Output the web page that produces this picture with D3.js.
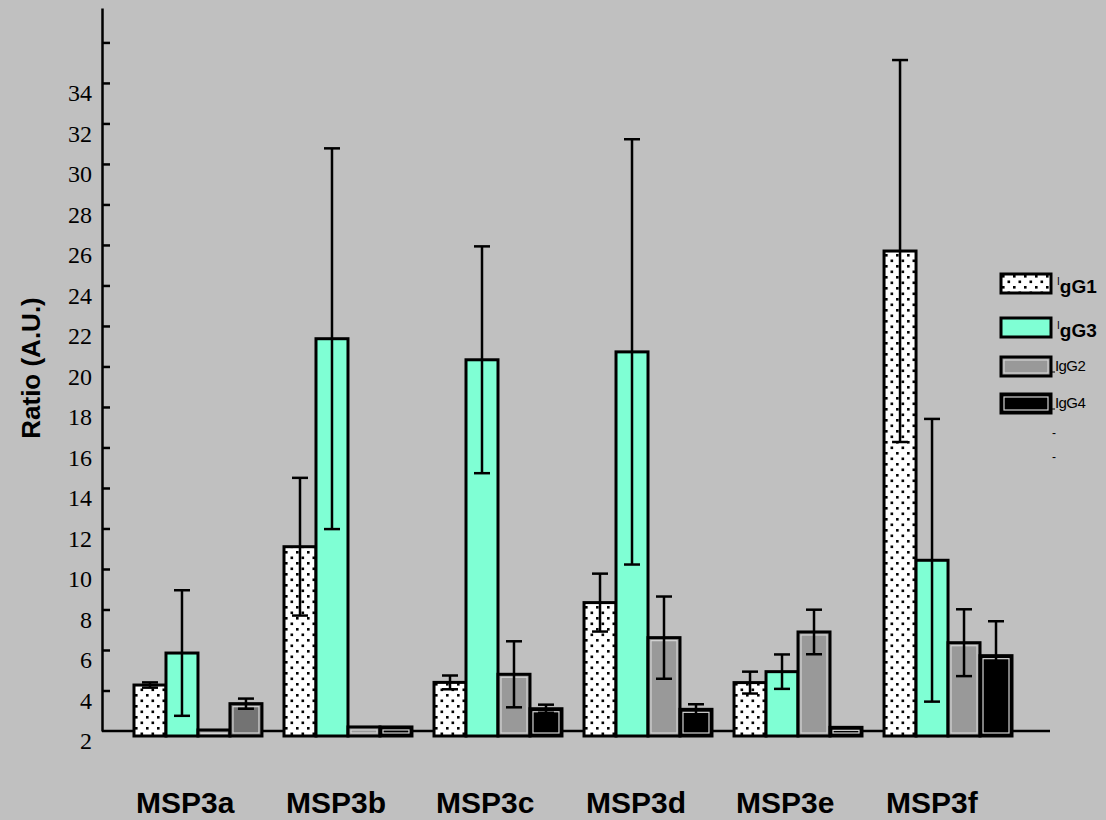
<!DOCTYPE html>
<html>
<head>
<meta charset="utf-8">
<script src="https://cdn.jsdelivr.net/npm/d3@7"></script>
<style>
body { margin: 0; background: #c0c0c0; }
</style>
</head>
<body>
<div id="chart"></div>
<script>
var categories = ['MSP3a', 'MSP3b', 'MSP3c', 'MSP3d', 'MSP3e', 'MSP3f'];
var seriesNames = ['IgG1', 'IgG3', 'IgG2', 'IgG4'];

// values (axis starts at 2)
var igg1 = [4.27, 11.1, 4.4, 8.34, 4.39, 25.7];
var igg1Err = [0.13, 3.4, 0.34, 1.43, 0.54, 9.43];
var igg3 = [5.85, 21.37, 20.33, 20.72, 4.93, 10.43];
var igg3Err = [3.1, 9.4, 5.6, 10.5, 0.85, 6.98];
var igg2 = [2.05, 2.2, 4.8, 6.61, 6.89, 6.36];
var igg2Err = [0, 0, 1.63, 2.03, 1.1, 1.65];
var igg4 = [3.35, 2.2, 3.1, 3.07, 2.18, 5.72];
var igg4Err = [0.25, 0, 0.2, 0.25, 0, 1.7];

var yTicks = [4, 6, 8, 10, 12, 14, 16, 18, 20, 22, 24, 26, 28, 30, 32, 34, 36];
var yLabels = [2, 4, 6, 8, 10, 12, 14, 16, 18, 20, 22, 24, 26, 28, 30, 32, 34];

var series = [
  {name: 'IgG1', values: igg1, err: igg1Err, fill: 'url(#dots)'},
  {name: 'IgG3', values: igg3, err: igg3Err, fill: '#7fffd4'},
  {name: 'IgG2', values: igg2, err: igg2Err, fill: '#999999'},
  {name: 'IgG4', values: igg4, err: igg4Err, fill: '#000000'}
];

var svg = d3.select('#chart').append('svg')
  .attr('width', 1106)
  .attr('height', 820)
  .style('display', 'block');

svg.append('rect')
  .attr('width', 1106)
  .attr('height', 820)
  .attr('fill', '#c0c0c0');

var pat = svg.append('defs').append('pattern')
  .attr('id', 'dots')
  .attr('patternUnits', 'userSpaceOnUse')
  .attr('width', 11)
  .attr('height', 11);
pat.append('rect').attr('width', 11).attr('height', 11).attr('fill', '#fff');
pat.append('rect').attr('x', 1).attr('y', 1).attr('width', 2.6).attr('height', 2.6).attr('fill', '#000');
pat.append('rect').attr('x', 6.5).attr('y', 6.5).attr('width', 2.6).attr('height', 2.6).attr('fill', '#000');

var y = d3.scaleLinear().domain([2, 37.7]).range([731, 8]);
var x0 = d3.scaleBand().domain(categories).range([123, 1023])
  .paddingInner(0.147).paddingOuter(0.0733);
var x1 = d3.scaleBand().domain(seriesNames).range([0, x0.bandwidth()]);

var axisX = 102;
var base = y(2) + 5;

// x axis line
svg.append('line')
  .attr('x1', axisX).attr('x2', 1050)
  .attr('y1', y(2)).attr('y2', y(2))
  .attr('stroke', '#000').attr('stroke-width', 2.5);

// y axis with inward ticks
var yAxis = svg.append('g')
  .attr('transform', 'translate(' + axisX + ',0)')
  .call(d3.axisLeft(y).tickValues(yTicks).tickSizeInner(-8).tickSizeOuter(0).tickFormat(''));
yAxis.select('.domain').attr('stroke', '#000').attr('stroke-width', 2.5);
yAxis.selectAll('.tick line').attr('stroke', '#000').attr('stroke-width', 2.5);

// labels sit a bit below their ticks, as in the original
var yLab = svg.append('g')
  .attr('transform', 'translate(' + axisX + ',0)')
  .call(d3.axisLeft(y).tickValues(yLabels).tickSize(0).tickPadding(10));
yLab.select('.domain').remove();
yLab.selectAll('text')
  .attr('dy', '0.74em')
  .attr('fill', '#000')
  .style('font-family', '"Liberation Serif", "Times New Roman", serif')
  .style('font-weight', 'normal')
  .style('font-size', '24px');

// x labels, left aligned under each group
var xAxis = svg.append('g')
  .attr('transform', 'translate(0,' + y(2) + ')')
  .call(d3.axisBottom(x0).tickSize(0));
xAxis.select('.domain').remove();
xAxis.selectAll('text')
  .attr('x', -x0.bandwidth() / 2 + 2)
  .attr('y', 82)
  .attr('dy', 0)
  .attr('text-anchor', 'start')
  .attr('fill', '#000')
  .style('font-family', '"Liberation Sans", Arial, sans-serif')
  .style('font-weight', 'bold')
  .style('font-size', '30px');

svg.append('text')
  .attr('transform', 'translate(40,' + 368 + ') rotate(-90)')
  .attr('text-anchor', 'middle')
  .style('font-family', '"Liberation Sans", Arial, sans-serif')
  .style('font-weight', 'bold')
  .style('font-size', '26px')
  .text('Ratio (A.U.)');

// bars
var groups = svg.selectAll('.group')
  .data(categories)
  .enter().append('g')
  .attr('class', 'group')
  .attr('transform', function (d) { return 'translate(' + x0(d) + ',0)'; });

function barData(d, i) {
  return series.map(function (s) {
    var fill = s.fill;
    if (d === 'MSP3a' && s.name === 'IgG4') fill = '#737373';
    return {name: s.name, v: s.values[i], e: s.err[i], fill: fill};
  });
}

groups.each(function (cat, i) {
  var g = d3.select(this);
  var bars = barData(cat, i);

  g.selectAll('rect.bar')
    .data(bars)
    .enter().append('rect')
    .attr('class', 'bar')
    .attr('x', function (d) { return x1(d.name); })
    .attr('y', function (d) { return y(d.v); })
    .attr('width', x1.bandwidth())
    .attr('height', function (d) { return base - y(d.v); })
    .attr('fill', function (d) { return d.fill; })
    .attr('stroke', '#000')
    .attr('stroke-width', 3);

  // light inner edge on the grey / black bars
  g.selectAll('rect.inner')
    .data(bars.filter(function (d) { return d.name === 'IgG2' || d.name === 'IgG4'; }))
    .enter().append('rect')
    .attr('class', 'inner')
    .attr('x', function (d) { return x1(d.name) + 3; })
    .attr('y', function (d) { return y(d.v) + 3; })
    .attr('width', x1.bandwidth() - 6)
    .attr('height', function (d) { return Math.max(0.5, base - y(d.v) - 6); })
    .attr('fill', 'none')
    .attr('stroke', '#d4d4d4')
    .attr('stroke-width', 1.2);
});

groups.each(function (cat, i) {
  var g = d3.select(this);
  var errs = barData(cat, i).filter(function (d) { return d.e > 0; });
  var eb = g.selectAll('g.err')
    .data(errs)
    .enter().append('g')
    .attr('class', 'err')
    .attr('stroke', '#000')
    .attr('stroke-width', 2.5);
  eb.append('line')
    .attr('x1', function (d) { return x1(d.name) + x1.bandwidth() / 2; })
    .attr('x2', function (d) { return x1(d.name) + x1.bandwidth() / 2; })
    .attr('y1', function (d) { return y(d.v + d.e); })
    .attr('y2', function (d) { return y(d.v - d.e); });
  eb.append('line')
    .attr('x1', function (d) { return x1(d.name) + x1.bandwidth() / 2 - 8; })
    .attr('x2', function (d) { return x1(d.name) + x1.bandwidth() / 2 + 8; })
    .attr('y1', function (d) { return y(d.v + d.e); })
    .attr('y2', function (d) { return y(d.v + d.e); });
  eb.append('line')
    .attr('x1', function (d) { return x1(d.name) + x1.bandwidth() / 2 - 8; })
    .attr('x2', function (d) { return x1(d.name) + x1.bandwidth() / 2 + 8; })
    .attr('y1', function (d) { return y(d.v - d.e); })
    .attr('y2', function (d) { return y(d.v - d.e); });
});

// legend
var legendY = [274, 318, 357, 394];
var legend = svg.selectAll('.legend')
  .data(series)
  .enter().append('g')
  .attr('class', 'legend')
  .attr('transform', function (d, i) { return 'translate(1001,' + legendY[i] + ')'; });

legend.append('rect')
  .attr('width', 50)
  .attr('height', 19)
  .attr('fill', function (d) { return d.fill; })
  .attr('stroke', '#000')
  .attr('stroke-width', 3);

legend.filter(function (d) { return d.name === 'IgG2' || d.name === 'IgG4'; })
  .append('rect')
  .attr('x', 3).attr('y', 3)
  .attr('width', 44).attr('height', 13)
  .attr('fill', 'none')
  .attr('stroke', '#d4d4d4')
  .attr('stroke-width', 1.2);

legend.each(function (d) {
  var t = d3.select(this).append('text')
    .attr('y', 19)
    .attr('fill', '#000')
    .style('font-family', '"Liberation Sans", Arial, sans-serif');
  if (d.name === 'IgG1' || d.name === 'IgG3') {
    t.attr('x', 56);
    t.append('tspan').attr('dy', -8).style('font-size', '10px').text(d.name.charAt(0));
    t.append('tspan').attr('dy', 8).style('font-size', '19px').style('font-weight', 'bold').text(d.name.slice(1));
  } else {
    d3.select(this).append('line')
      .attr('x1', 50).attr('x2', 54)
      .attr('y1', 15).attr('y2', 15)
      .attr('stroke', '#000').attr('stroke-width', 1);
    t.attr('x', 54).attr('y', 14)
      .style('font-size', '15px')
      .style('letter-spacing', '-0.6px')
      .text(d.name);
  }
});

svg.selectAll('.dash')
  .data([437, 461])
  .enter().append('text')
  .attr('class', 'dash')
  .attr('x', 1052)
  .attr('y', function (d) { return d; })
  .style('font-family', '"Liberation Sans", Arial, sans-serif')
  .style('font-size', '12px')
  .text('-');
</script>
</body>
</html>
